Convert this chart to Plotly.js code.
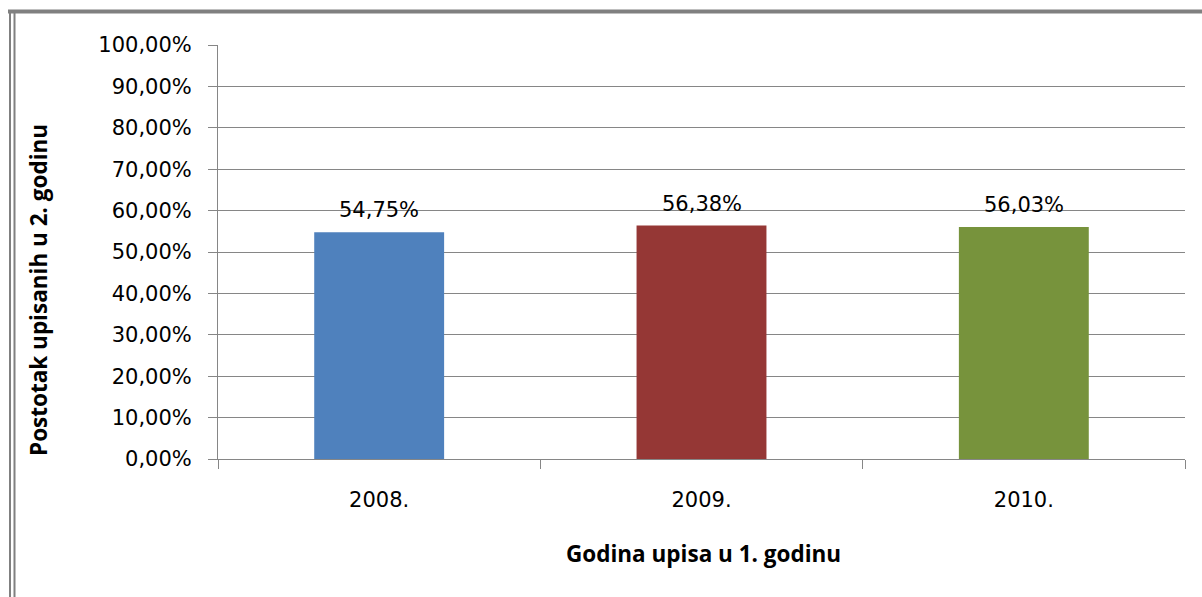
<!DOCTYPE html>
<html>
<head>
<meta charset="utf-8">
<script src="https://cdn.plot.ly/plotly-3.0.1.min.js"></script>
<style>
html,body{margin:0;padding:0;background:#fff;}
#chart{width:1202px;height:597px;}
</style>
</head>
<body>
<div id="chart"></div>
<script>
const categories = ["2008.", "2009.", "2010."];
const values = [0.5475, 0.5638, 0.5603];
const valueLabels = ["54,75%", "56,38%", "56,03%"];
const barColors = ["#4F81BD", "#953735", "#77933C"];
const yTickVals = [0, 0.1, 0.2, 0.3, 0.4, 0.5, 0.6, 0.7, 0.8, 0.9, 1.0];
const xTitle = "Godina upisa u 1. godinu";
const yTitle = "Postotak upisanih u 2. godinu";

const W = 1202, H = 597;
const L = 218, R = 17, T = 45, B = 138;
const pw = W - L - R, ph = H - T - B;
const px = x => (x - L) / pw;
const py = y => (H - B - y) / ph;

const tickFont = {family: "DejaVu Sans", size: 21, color: "#000"};
const titleFont = {family: "Open Sans", size: 22.5, color: "#000", weight: "bold"};

const trace = {
  type: "bar",
  x: categories,
  y: values,
  marker: {color: barColors},
  width: 0.403,
  hoverinfo: "none"
};

const labelAnns = categories.map((c, i) => ({
  text: valueLabels[i], xref: "x", yref: "y", x: i, y: values[i],
  xanchor: "center", yanchor: "bottom", yshift: 8, showarrow: false, font: tickFont
}));

const borderColor = "#808080";
const layout = {
  width: W, height: H,
  margin: {l: L, r: R, t: T, b: B, pad: 0},
  paper_bgcolor: "#fff",
  plot_bgcolor: "#fff",
  separators: ", ",
  showlegend: false,
  xaxis: {
    type: "category",
    categoryarray: categories, categoryorder: "array",
    range: [-0.5, categories.length - 0.5],
    showline: true, linecolor: "#868686", linewidth: 1,
    ticks: "outside", ticklen: 9, tickcolor: "#868686", tickwidth: 1,
    tickson: "boundaries",
    tickfont: tickFont,
    tickangle: 0,
    ticklabelstandoff: 22,
    showgrid: false,
    zeroline: false
  },
  yaxis: {
    range: [0, 1.0],
    tickvals: yTickVals,
    tickformat: ".2%",
    tickfont: tickFont,
    ticks: "outside", ticklen: 9, tickcolor: "#868686", tickwidth: 1,
    ticklabelstandoff: 12,
    showline: true, linecolor: "#868686", linewidth: 1,
    showgrid: true, gridcolor: "#868686", gridwidth: 1,
    zeroline: false
  },
  annotations: labelAnns.concat([
    {text: xTitle, xref: "paper", yref: "paper", x: px(703), y: py(553),
     xanchor: "center", yanchor: "middle", showarrow: false, font: titleFont},
    {text: yTitle, xref: "paper", yref: "paper", x: px(38), y: py(290),
     xanchor: "center", yanchor: "middle", textangle: -90, showarrow: false, font: titleFont}
  ]),
  shapes: [
    {type: "line", xref: "paper", yref: "paper", x0: px(8), x1: px(1202), y0: py(11.5), y1: py(11.5),
     line: {color: borderColor, width: 4}},
    {type: "line", xref: "paper", yref: "paper", x0: px(10), x1: px(10), y0: py(10), y1: py(597),
     line: {color: borderColor, width: 2}},
    {type: "line", xref: "paper", yref: "paper", x0: px(14.5), x1: px(14.5), y0: py(13), y1: py(597),
     line: {color: borderColor, width: 2}}
  ]
};

Plotly.newPlot("chart", [trace], layout, {displayModeBar: false, staticPlot: true});
</script>
</body>
</html>
